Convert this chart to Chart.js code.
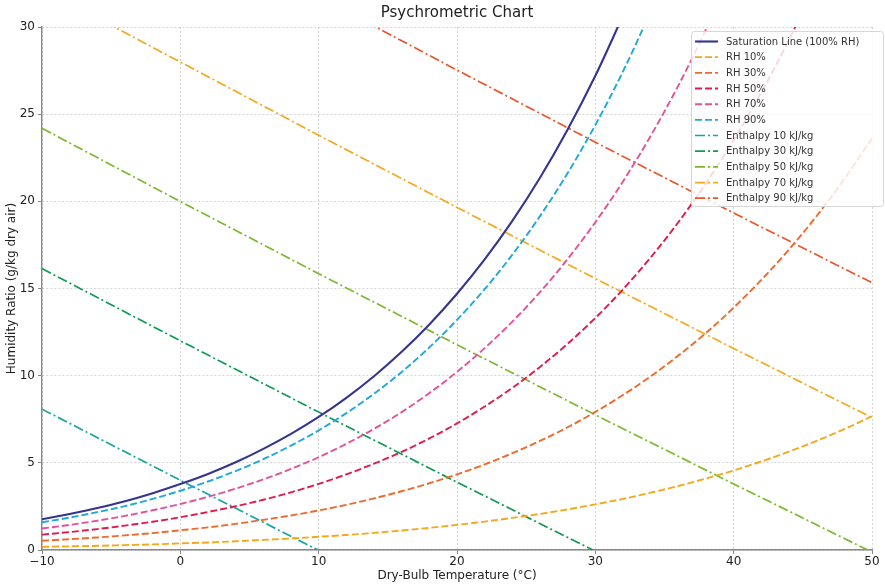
<!DOCTYPE html>
<html>
<head>
<meta charset="utf-8">
<title>Psychrometric Chart</title>
<script src="https://cdn.jsdelivr.net/npm/chart.js@4/dist/chart.umd.min.js"></script>
<style>
  html, body { margin: 0; padding: 0; background: #fff; }
  #wrap { width: 885px; height: 586px; }
</style>
</head>
<body>
<div id="wrap"><canvas id="psyChart" width="885" height="586"></canvas></div>
<script>
// --- data ---
const chartTitle = 'Psychrometric Chart';
const xTitle = 'Dry-Bulb Temperature (°C)';
const yTitle = 'Humidity Ratio (g/kg dry air)';

// dry-bulb temperatures for the RH curves (°C)
const tempsRh = [-10, -8, -6, -4, -2, 0, 2, 4, 6, 8, 10, 12, 14, 16, 18, 20,
                 22, 24, 26, 28, 30, 32, 34, 36, 38, 40, 42, 44, 46, 48, 50];

// humidity ratio, g/kg
const satLine = [1.76, 2.07, 2.41, 2.80, 3.26, 3.78, 4.36, 5.03, 5.80, 6.66, 7.63,
                 8.73, 9.97, 11.37, 12.94, 14.70, 16.67, 18.88, 21.35, 24.12, 27.20, 30.65];
const rh10 = [0.18, 0.21, 0.24, 0.28, 0.32, 0.38, 0.43, 0.50, 0.58, 0.66, 0.76,
              0.86, 0.98, 1.12, 1.27, 1.44, 1.63, 1.84, 2.07, 2.33, 2.62, 2.93,
              3.29, 3.67, 4.10, 4.56, 5.08, 5.64, 6.26, 6.93, 7.67];
const rh30 = [0.53, 0.62, 0.72, 0.84, 0.97, 1.13, 1.30, 1.50, 1.73, 1.98, 2.27,
              2.59, 2.96, 3.37, 3.83, 4.34, 4.91, 5.55, 6.26, 7.04, 7.92, 8.89,
              9.96, 11.15, 12.45, 13.90, 15.49, 17.24, 19.16, 21.28, 23.60];
const rh50 = [0.88, 1.03, 1.20, 1.40, 1.62, 1.88, 2.18, 2.51, 2.88, 3.31, 3.79,
              4.34, 4.95, 5.63, 6.40, 7.26, 8.23, 9.30, 10.50, 11.83, 13.31, 14.95,
              16.78, 18.80, 21.04, 23.51, 26.25, 29.27, 32.61];
const rh70 = [1.23, 1.44, 1.68, 1.96, 2.28, 2.64, 3.05, 3.52, 4.05, 4.65, 5.32,
              6.09, 6.95, 7.91, 9.00, 10.22, 11.58, 13.10, 14.79, 16.69, 18.80, 21.14,
              23.75, 26.64, 29.86, 33.42];
const rh90 = [1.59, 1.86, 2.17, 2.52, 2.93, 3.40, 3.93, 4.53, 5.21, 5.99, 6.86,
              7.85, 8.96, 10.21, 11.62, 13.20, 14.96, 16.94, 19.15, 21.62, 24.38, 27.45, 30.87];

// enthalpy lines (temperature / humidity ratio pairs)
const tempsH10 = [-10, 0, 10];
const h10 = [8.08, 4.00, -0.02];
const tempsH30 = [-10, 0, 10, 20, 30];
const h30 = [16.14, 12.00, 7.91, 3.89, -0.07];
const tempsH50 = [-10, 0, 10, 20, 30, 40, 50];
const h50 = [24.19, 19.99, 15.85, 11.77, 7.75, 3.79, -0.12];
const tempsH70 = [-10, 0, 10, 20, 30, 40, 50];
const h70 = [32.20, 27.99, 23.79, 19.65, 15.57, 11.56, 7.59];
const tempsH90 = [10, 20, 30, 40, 50];
const h90 = [31.73, 27.53, 23.39, 19.33, 15.33];

const xTicks = [-10, 0, 10, 20, 30, 40, 50];
const yTicks = [0, 5, 10, 15, 20, 25, 30];

// --- helpers ---
function pts(xs, ys) {
    return ys.map((y, i) => ({ x: xs[i], y: y }));
}

const DASH = [7, 3];
const DASHDOT = [10, 3, 2, 3];

function rhSet(label, ys, color) {
    return {
        label: label, data: pts(tempsRh, ys), borderColor: color,
        borderWidth: 1.9, borderDash: DASH, pointRadius: 0,
        cubicInterpolationMode: 'monotone', fill: false
    };
}
function hSet(label, xs, ys, color) {
    return {
        label: label, data: pts(xs, ys), borderColor: color,
        borderWidth: 1.7, borderDash: DASHDOT, pointRadius: 0,
        tension: 0, fill: false
    };
}

const datasets = [
    { label: 'Saturation Line (100% RH)', data: pts(tempsRh, satLine), borderColor: '#35348f',
      borderWidth: 2.1, pointRadius: 0, cubicInterpolationMode: 'monotone', fill: false },
    rhSet('RH 10%', rh10, '#f4a81d'),
    rhSet('RH 30%', rh30, '#ee6a2c'),
    rhSet('RH 50%', rh50, '#e01a4f'),
    rhSet('RH 70%', rh70, '#e0539a'),
    rhSet('RH 90%', rh90, '#1fa8dc'),
    hSet('Enthalpy 10 kJ/kg', tempsH10, h10, '#17a59b'),
    hSet('Enthalpy 30 kJ/kg', tempsH30, h30, '#0f9a55'),
    hSet('Enthalpy 50 kJ/kg', tempsH50, h50, '#7cb82f'),
    hSet('Enthalpy 70 kJ/kg', tempsH70, h70, '#f4a81d'),
    hSet('Enthalpy 90 kJ/kg', tempsH90, h90, '#e8562b')
];

// title centred over the plot + matplotlib-style legend in the upper right
const overlayPlugin = {
    id: 'overlay',
    afterDraw(chart) {
        const ctx = chart.ctx;
        const area = chart.chartArea;
        ctx.save();
        ctx.fillStyle = '#222';
        ctx.font = '15px "DejaVu Sans"';
        ctx.textAlign = 'center';
        ctx.textBaseline = 'middle';
        ctx.fillText(chartTitle, (area.left + area.right) / 2, 13);

        // legend box
        const bx = 691, by = 31, bw = 192, bh = 175;
        ctx.fillStyle = 'rgba(255,255,255,0.82)';
        ctx.strokeStyle = '#d6d6d6';
        ctx.lineWidth = 1;
        ctx.beginPath();
        ctx.roundRect(bx + 0.5, by + 0.5, bw, bh, 3);
        ctx.fill();
        ctx.stroke();

        ctx.font = '10px "DejaVu Sans"';
        ctx.textAlign = 'left';
        chart.data.datasets.forEach((ds, i) => {
            const yy = by + 10.5 + i * 15.67;
            ctx.strokeStyle = ds.borderColor;
            ctx.lineWidth = ds.borderWidth;
            ctx.setLineDash(ds.borderDash || []);
            ctx.beginPath();
            ctx.moveTo(695, yy);
            ctx.lineTo(718, yy);
            ctx.stroke();
            ctx.setLineDash([]);
            ctx.fillStyle = '#333';
            ctx.fillText(ds.label, 726, yy + 0.5);
        });
        ctx.restore();
    }
};

const minus = v => String(v).replace('-', '\u2212');

new Chart(document.getElementById('psyChart'), {
    type: 'line',
    data: { datasets: datasets },
    plugins: [overlayPlugin],
    options: {
        responsive: false,
        animation: false,
        layout: { padding: { top: 27, right: 13, bottom: 0, left: 0 } },
        plugins: { legend: { display: false }, tooltip: { enabled: false } },
        scales: {
            x: {
                type: 'linear', min: -10, max: 50,
                afterBuildTicks: s => { s.ticks = xTicks.map(v => ({ value: v })); },
                afterFit: s => { s.height = 36; },
                ticks: { color: '#222', font: { family: 'DejaVu Sans', size: 12 }, padding: 1,
                         maxRotation: 0, callback: minus },
                grid: { color: '#d4d4d4', tickColor: '#888', tickLength: 4 },
                border: { color: '#888', width: 1.4, dash: [2, 2] },
                title: { display: true, text: xTitle, color: '#222',
                         font: { family: 'DejaVu Sans', size: 12 }, padding: { top: 0, bottom: 3 } }
            },
            y: {
                type: 'linear', min: 0, max: 30,
                afterBuildTicks: s => { s.ticks = yTicks.map(v => ({ value: v })); },
                afterFit: s => { s.width = 42; },
                ticks: { color: '#222', font: { family: 'DejaVu Sans', size: 12 }, padding: 3,
                         callback: minus },
                grid: { color: '#d4d4d4', tickColor: '#888', tickLength: 4 },
                border: { color: '#888', width: 1.4, dash: [2, 2] },
                title: { display: true, text: yTitle, color: '#222',
                         font: { family: 'DejaVu Sans', size: 12 }, padding: { top: 5, bottom: 0 } }
            }
        }
    }
});
</script>
</body>
</html>
